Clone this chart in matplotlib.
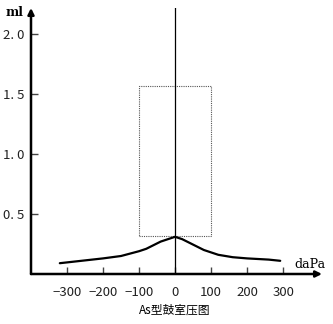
import matplotlib
matplotlib.use('Agg')
import matplotlib.pyplot as plt
from matplotlib.patches import Rectangle

plt.rcParams['font.family'] = ['Noto Sans CJK SC', 'DejaVu Sans']

# tympanogram curve (pressure daPa, compliance ml)
pressure = [-320, -290, -260, -230, -200, -175, -150, -125, -100, -80, -60, -40,
            -20, 0, 20, 40, 60, 80, 100, 120, 140, 160, 180, 200, 230, 260, 292]
compliance = [0.09, 0.10, 0.11, 0.12, 0.13, 0.14, 0.15, 0.17, 0.19, 0.21, 0.24, 0.27,
              0.29, 0.31, 0.29, 0.26, 0.23, 0.20, 0.18, 0.16, 0.15, 0.14, 0.135, 0.13,
              0.125, 0.12, 0.11]

# normal range box
box_x = [-100, 100]
box_y = [0.32, 1.57]

xticks = [-300, -200, -100, 0, 100, 200, 300]
xtick_labels = ['\u2212300', '\u2212200', '\u2212100', '0', '100', '200', '300']
yticks = [0.5, 1.0, 1.5, 2.0]
ytick_labels = ['0. 5', '1. 0', '1. 5', '2. 0']

fig = plt.figure(figsize=(3.33, 3.24), dpi=100)
ax = fig.add_axes([31/333, 50/324, 291/333, 266/324])
ax.set_xlim(-400, 408)
ax.set_ylim(0, 266/120)

for s in ['top', 'right', 'left', 'bottom']:
    ax.spines[s].set_visible(False)

# axes with arrows
ax.annotate('', xy=(1.0, 0), xytext=(0, 0), xycoords='axes fraction',
            arrowprops=dict(arrowstyle='-|>', color='black', lw=1.8,
                            mutation_scale=9, shrinkA=0, shrinkB=0))
ax.annotate('', xy=(0, 1.0), xytext=(0, 0), xycoords='axes fraction',
            arrowprops=dict(arrowstyle='-|>', color='black', lw=1.8,
                            mutation_scale=9, shrinkA=0, shrinkB=0))

ax.axvline(0, ymin=0, ymax=1, color='black', lw=0.9)

ax.add_patch(Rectangle((box_x[0], box_y[0]), box_x[1] - box_x[0], box_y[1] - box_y[0],
                       fill=False, ls=(0, (1, 1)), lw=0.8, ec='#555555'))

ax.plot(pressure, compliance, color='black', lw=1.6, solid_capstyle='round',
        solid_joinstyle='round')

ax.set_xticks(xticks)
ax.set_xticklabels(xtick_labels)
ax.set_yticks(yticks)
ax.set_yticklabels(ytick_labels)
ax.tick_params(axis='both', direction='in', length=5, width=1, color='#444444',
               labelsize=9.5, labelcolor='#222222')
ax.tick_params(axis='x', pad=9)
ax.tick_params(axis='y', pad=5)

fig.text(15/333, 1 - 13/324, 'ml', fontsize=9, fontweight='bold', family='DejaVu Serif',
         ha='center', va='center')
fig.text(310/333, 1 - 264/324, 'daPa', fontsize=9, family='DejaVu Serif',
         ha='center', va='center')
fig.text(175/333, 1 - 310/324, 'As型鼓室压图', fontsize=8.5, ha='center', va='center')

fig.savefig('out.png', dpi=100)
